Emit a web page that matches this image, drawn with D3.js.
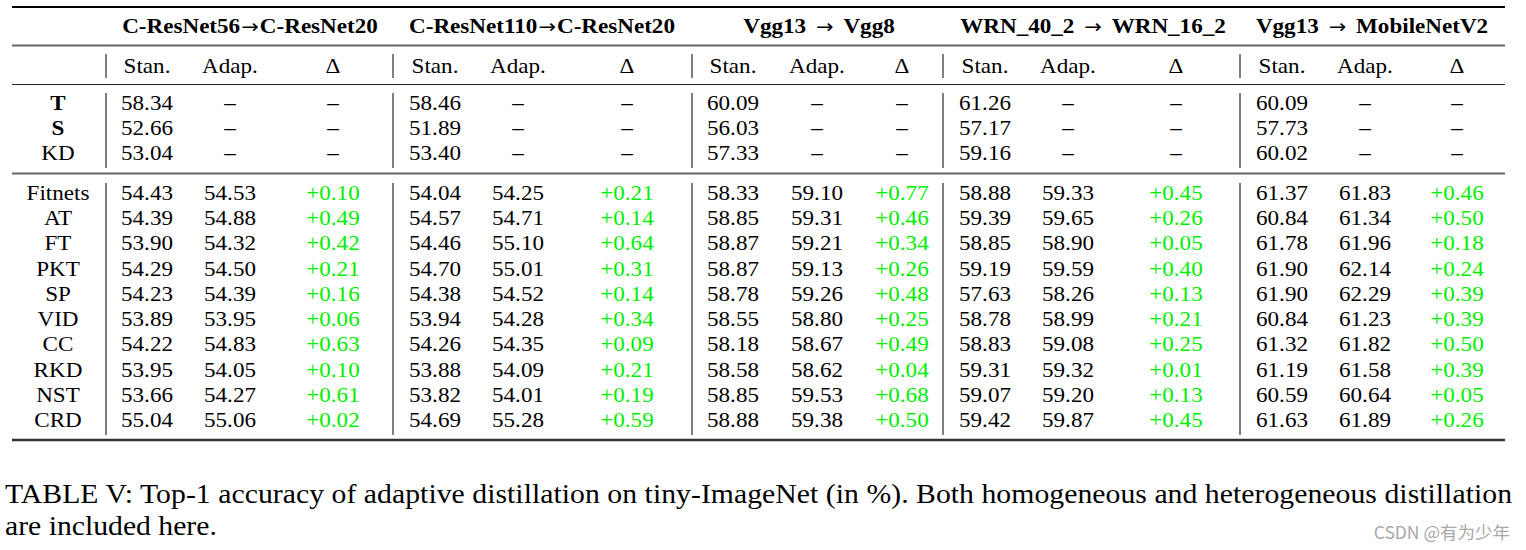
<!DOCTYPE html>
<html><head><meta charset="utf-8">
<script src="https://cdn.jsdelivr.net/npm/d3@7"></script>
<style>html,body{margin:0;padding:0;background:#fff;}svg{display:block;}</style>
</head><body>
<script>
// ---------- data ----------
const groups = ["C-ResNet56\u2192C-ResNet20","C-ResNet110\u2192C-ResNet20","Vgg13 \u2192 Vgg8","WRN_40_2 \u2192 WRN_16_2","Vgg13 \u2192 MobileNetV2"];
const subCols = ["Stan.","Adap.","\u0394"];
const baseRows = ["T","S","KD"];
const baseBold = [true,true,false];
const methods = ["Fitnets","AT","FT","PKT","SP","VID","CC","RKD","NST","CRD"];
const baseVals = [
  ["58.34","52.66","53.04"],
  ["58.46","51.89","53.40"],
  ["60.09","56.03","57.33"],
  ["61.26","57.17","59.16"],
  ["60.09","57.73","60.02"]
];
const stan = [
  ["54.43","54.39","53.90","54.29","54.23","53.89","54.22","53.95","53.66","55.04"],
  ["54.04","54.57","54.46","54.70","54.38","53.94","54.26","53.88","53.82","54.69"],
  ["58.33","58.85","58.87","58.87","58.78","58.55","58.18","58.58","58.85","58.88"],
  ["58.88","59.39","58.85","59.19","57.63","58.78","58.83","59.31","59.07","59.42"],
  ["61.37","60.84","61.78","61.90","61.90","60.84","61.32","61.19","60.59","61.63"]
];
const adap = [
  ["54.53","54.88","54.32","54.50","54.39","53.95","54.83","54.05","54.27","55.06"],
  ["54.25","54.71","55.10","55.01","54.52","54.28","54.35","54.09","54.01","55.28"],
  ["59.10","59.31","59.21","59.13","59.26","58.80","58.67","58.62","59.53","59.38"],
  ["59.33","59.65","58.90","59.59","58.26","58.99","59.08","59.32","59.20","59.87"],
  ["61.83","61.34","61.96","62.14","62.29","61.23","61.82","61.58","60.64","61.89"]
];
const delta = [
  ["+0.10","+0.49","+0.42","+0.21","+0.16","+0.06","+0.63","+0.10","+0.61","+0.02"],
  ["+0.21","+0.14","+0.64","+0.31","+0.14","+0.34","+0.09","+0.21","+0.19","+0.59"],
  ["+0.77","+0.46","+0.34","+0.26","+0.48","+0.25","+0.49","+0.04","+0.68","+0.50"],
  ["+0.45","+0.26","+0.05","+0.40","+0.13","+0.21","+0.25","+0.01","+0.13","+0.45"],
  ["+0.46","+0.50","+0.18","+0.24","+0.39","+0.39","+0.50","+0.39","+0.05","+0.26"]
];
const captionLines = [
  "TABLE V: Top-1 accuracy of adaptive distillation on tiny-ImageNet (in %). Both homogeneous and heterogeneous distillation",
  "are included here."
];
const watermark = "CSDN @\u6709\u4e3a\u5c11\u5e74";

// ---------- layout ----------
const W = 1526, H = 550;
const SX = 1.1; // horizontal glyph stretch
const FONT = "'Liberation Serif','Times New Roman',serif";
const ARROW_FONT = "'DejaVu Sans',sans-serif";
const svg = d3.select("body").append("svg").attr("width", W).attr("height", H);

const colX = [[147,230,333],[435,518,627],[733,817,902],[985,1068,1176],[1282,1365,1457]];
const groupX = d3.scaleOrdinal().domain(groups).range([250,542,819,1093,1372]);
const barX = d3.scaleOrdinal().domain(d3.range(5)).range([106,393,692,943,1240]);
const labelX = 58;
const yBase = d3.scaleLinear().domain([0,2]).range([110,160]);
const yData = d3.scaleLinear().domain([0,9]).range([200,427]);
const x0 = 12, x1 = 1505;

function txt(x, y, s, opt={}) {
  const t = svg.append("text")
    .attr("transform", `translate(${x},${y}) scale(${opt.sx||SX},1)`)
    .attr("text-anchor", opt.anchor || "middle")
    .attr("font-family", opt.font || FONT)
    .attr("font-size", opt.size || 21)
    .attr("font-weight", opt.bold ? "bold" : "normal")
    .attr("fill", opt.fill || "#000")
    .text(s);
  if (opt.len) t.attr("textLength", opt.len).attr("lengthAdjust", "spacing");
  return t;
}
function hline(y, w, c) {
  svg.append("line").attr("x1", x0).attr("x2", x1).attr("y1", y).attr("y2", y)
    .attr("stroke", c).attr("stroke-width", w);
}
function vbars(ya, yb) {
  svg.append("g").selectAll("line").data(d3.range(5)).join("line")
    .attr("x1", d => barX(d)).attr("x2", d => barX(d))
    .attr("y1", ya).attr("y2", yb)
    .attr("stroke", "#555").attr("stroke-width", 1.5);
}

// rules
hline(7, 2.2, "#000");
hline(45.5, 1.8, "#666");
hline(84.5, 1.2, "#222");
hline(173.5, 1.8, "#666");
hline(440, 2.4, "#333");

// vertical bars
vbars(54, 78);
vbars(93, 168);
vbars(183, 435);

// group headers: bold names with a math-style (non-bold) arrow
groups.forEach(g => {
  const parts = g.split("\u2192");
  const spaced = /\s$/.test(parts[0]);
  const t = svg.append("text")
    .attr("transform", `translate(${groupX(g)},33) scale(${SX},1)`)
    .attr("text-anchor", "middle")
    .attr("font-family", FONT).attr("font-size", 21).attr("fill", "#000")
    .attr("xml:space", "preserve");
  t.append("tspan").attr("font-weight", "bold").text(parts[0].trim());
  t.append("tspan").attr("font-family", ARROW_FONT).attr("font-size", 19)
    .attr("dx", spaced ? 9 : 1).text("\u2192");
  t.append("tspan").attr("font-weight", "bold").attr("dx", spaced ? 9 : 1).text(parts[1].trim());
});
// sub headers
groups.forEach((g, gi) => subCols.forEach((c, ci) => txt(colX[gi][ci], 72.5, c)));

// base rows
baseRows.forEach((r, ri) => {
  txt(labelX, yBase(ri), r, {bold: baseBold[ri]});
  groups.forEach((g, gi) => {
    txt(colX[gi][0], yBase(ri), baseVals[gi][ri]);
    txt(colX[gi][1], yBase(ri), "\u2013");
    txt(colX[gi][2], yBase(ri), "\u2013");
  });
});

// method rows
methods.forEach((m, mi) => {
  txt(labelX, yData(mi), m);
  groups.forEach((g, gi) => {
    txt(colX[gi][0], yData(mi), stan[gi][mi]);
    txt(colX[gi][1], yData(mi), adap[gi][mi]);
    txt(colX[gi][2], yData(mi), delta[gi][mi], {fill: "#00ee00"});
  });
});

// caption
txt(5, 503, captionLines[0], {anchor: "start", size: 27, len: (1512 - 5) / SX});
txt(5, 535, captionLines[1], {anchor: "start", size: 27});

// watermark
txt(1510, 539, watermark, {anchor: "end", size: 17.5, sx: 1, fill: "#a8a8a8",
  font: "'Noto Sans CJK SC','Noto Sans',sans-serif"});
</script>
</body></html>
